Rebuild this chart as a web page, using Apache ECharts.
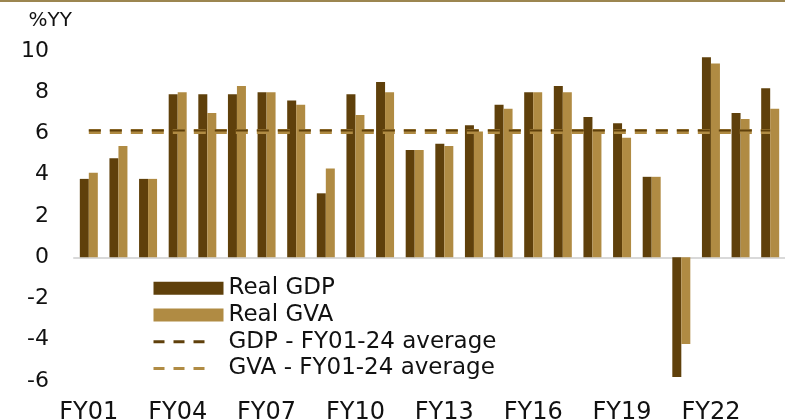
<!DOCTYPE html>
<html>
<head>
<meta charset="utf-8">
<script src="https://cdn.jsdelivr.net/npm/echarts@6/dist/echarts.min.js"></script>
<style>
  html, body { margin: 0; padding: 0; background: #fff; }
  #chart { width: 785px; height: 420px; }
</style>
</head>
<body>
<div id="chart"></div>
<script>
// fiscal years FY01..FY24
let years = ['FY01','FY02','FY03','FY04','FY05','FY06','FY07','FY08','FY09','FY10','FY11','FY12',
             'FY13','FY14','FY15','FY16','FY17','FY18','FY19','FY20','FY21','FY22','FY23','FY24'];

// %YY
let realGdp = [3.8, 4.8, 3.8, 7.9, 7.9, 7.9, 8.0, 7.6, 3.1, 7.9, 8.5, 5.2,
               5.5, 6.4, 7.4, 8.0, 8.3, 6.8, 6.5, 3.9, -5.8, 9.7, 7.0, 8.2];
let realGva = [4.1, 5.4, 3.8, 8.0, 7.0, 8.3, 8.0, 7.4, 4.3, 6.9, 8.0, 5.2,
               5.4, 6.1, 7.2, 8.0, 8.0, 6.2, 5.8, 3.9, -4.2, 9.4, 6.7, 7.2];

let gdpAvg = 6.15;
let gvaAvg = 6.1;

let gdpColor = '#5f400b';
let gvaColor = '#b08b43';

let chart = echarts.init(document.getElementById('chart'));

let font = 'DejaVu Sans';
let legendDash = [11, 9, 11, 9, 11, 60];

let option = {
    animation: false,
    textStyle: { fontFamily: font, color: '#111' },
    graphic: [
        {
            type: 'rect',
            shape: { x: 0, y: 0, width: 785, height: 2 },
            style: { fill: '#9c8650' },
            silent: true
        }
    ],
    grid: {
        left: 74,
        right: 0,
        top: 51,
        bottom: 39,
        outerBoundsMode: 'none'
    },
    legend: {
        orient: 'vertical',
        left: 152,
        top: 275,
        padding: 0,
        itemGap: 0,
        itemWidth: 70,
        itemHeight: 13,
        textStyle: { fontFamily: font, fontSize: 23, color: '#111', lineHeight: 26.7 },
        data: [
            { name: 'Real GDP', icon: 'rect' },
            { name: 'Real GVA', icon: 'rect' },
            { name: 'GDP - FY01-24 average', itemStyle: { opacity: 0 }, lineStyle: { width: 3, type: legendDash } },
            { name: 'GVA - FY01-24 average', itemStyle: { opacity: 0 }, lineStyle: { width: 3, type: legendDash } }
        ]
    },
    xAxis: [
        {
            type: 'category',
            data: years,
            axisLine: { show: false, onZero: false },
            axisTick: { show: false },
            axisLabel: {
                interval: 2,
                margin: 20,
                fontFamily: font,
                fontSize: 24,
                color: '#111'
            }
        },
        {
            // zero line
            type: 'category',
            data: years,
            position: 'bottom',
            axisLine: { show: true, onZero: true, lineStyle: { color: '#d9d9d9', width: 2 } },
            axisTick: { show: false },
            axisLabel: { show: false }
        }
    ],
    yAxis: {
        type: 'value',
        min: -6,
        max: 10,
        interval: 2,
        name: '%YY',
        nameLocation: 'end',
        nameGap: 20,
        nameTextStyle: { fontFamily: font, fontSize: 20, color: '#111', align: 'right', padding: [0, 2, 0, 0] },
        axisLine: { show: false },
        axisTick: { show: false },
        splitLine: { show: false },
        axisLabel: { margin: 25, fontFamily: font, fontSize: 22, color: '#111', padding: [8, 0, 0, 0] }
    },
    series: [
        {
            name: 'Real GDP',
            type: 'bar',
            data: realGdp,
            barWidth: 9,
            barGap: '0%',
            itemStyle: { color: gdpColor }
        },
        {
            name: 'Real GVA',
            type: 'bar',
            data: realGva,
            barWidth: 9,
            itemStyle: { color: gvaColor }
        },
        {
            name: 'GVA - FY01-24 average',
            type: 'line',
            data: years.map(() => gvaAvg),
            symbol: 'none',
            z: 3,
            itemStyle: { color: 'rgba(0,0,0,0)' },
            lineStyle: { color: gvaColor, width: 5, type: [12, 9] }
        },
        {
            name: 'GDP - FY01-24 average',
            type: 'line',
            data: years.map(() => gdpAvg),
            symbol: 'none',
            z: 4,
            itemStyle: { color: 'rgba(0,0,0,0)' },
            lineStyle: { color: gdpColor, width: 2, type: [12, 9] }
        }
    ]
};
option && chart.setOption(option);
</script>
</body>
</html>
